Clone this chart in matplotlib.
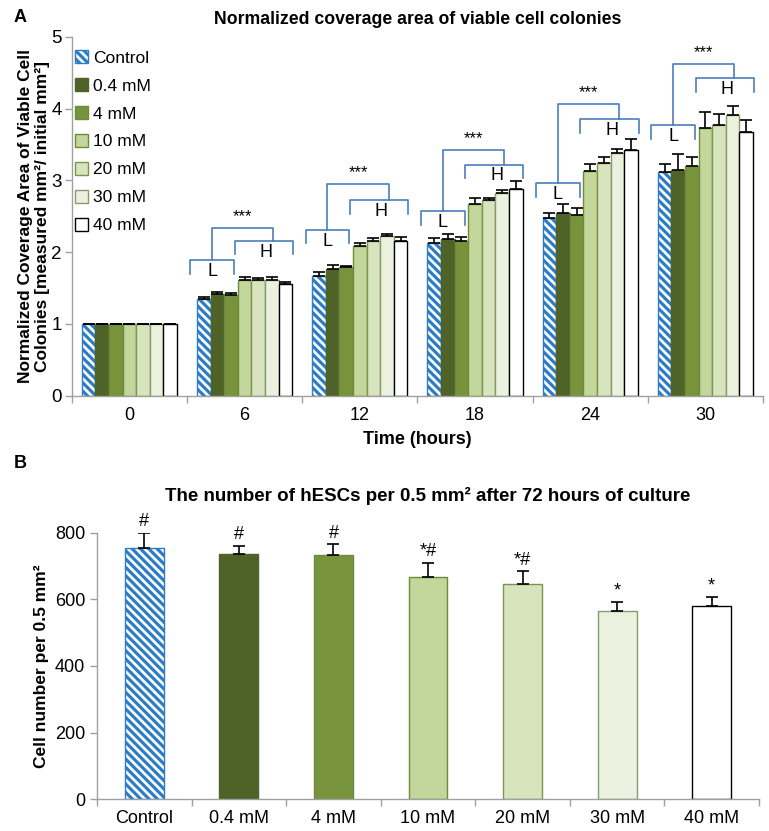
import matplotlib
matplotlib.use("Agg")
from matplotlib import pyplot as plt
import numpy as np

# ---- data ----
groups = ['Control', '0.4 mM', '4 mM', '10 mM', '20 mM', '30 mM', '40 mM']
times = ['0', '6', '12', '18', '24', '30']

# normalized coverage area, rows = time, cols = group
area = np.array([
    [1.00, 1.00, 1.00, 1.00, 1.00, 1.00, 1.00],
    [1.35, 1.41, 1.40, 1.61, 1.61, 1.61, 1.55],
    [1.67, 1.76, 1.79, 2.08, 2.16, 2.22, 2.16],
    [2.13, 2.18, 2.15, 2.67, 2.72, 2.83, 2.88],
    [2.48, 2.54, 2.51, 3.13, 3.24, 3.38, 3.42],
    [3.11, 3.14, 3.20, 3.73, 3.77, 3.91, 3.67],
])
area_err = np.array([
    [0.00, 0.00, 0.00, 0.00, 0.00, 0.00, 0.00],
    [0.03, 0.04, 0.03, 0.05, 0.03, 0.05, 0.04],
    [0.05, 0.06, 0.02, 0.05, 0.03, 0.03, 0.05],
    [0.06, 0.07, 0.06, 0.09, 0.04, 0.04, 0.11],
    [0.07, 0.13, 0.10, 0.10, 0.08, 0.06, 0.16],
    [0.12, 0.23, 0.13, 0.22, 0.15, 0.12, 0.17],
])

# bracket levels for time 6..30
l_top = [1.89, 2.31, 2.57, 2.96, 3.77]
h_top = [2.16, 2.72, 3.22, 3.85, 4.42]
sig_top = [2.34, 2.95, 3.42, 4.06, 4.62]

# cell number after 72 h
cells = [755, 737, 734, 666, 647, 565, 580]
cells_err = [45, 24, 31, 44, 37, 28, 27]
cells_mark = ['#', '#', '#', '*#', '*#', '*', '*']

# ---- style ----
colors = ['white', '#4f6228', '#77933c', '#c3d69b', '#d7e4bd', '#ebf1de', 'white']
edges = ['#2d7dc6', '#4f6228', '#6f8a38', '#6f8a38', '#7d9450', '#8a9a70', 'black']
hatches = ['\\\\\\\\', None, None, None, None, None, None]
blue = '#4a7ebb'
axcol = '#a0a0a0'

plt.rcParams['font.family'] = ['Liberation Sans', 'DejaVu Sans']
plt.rcParams['hatch.linewidth'] = 2.3
narrow = ['Liberation Sans Narrow', 'Liberation Sans', 'DejaVu Sans']

fig = plt.figure(figsize=(7.69, 8.31), dpi=100)

def style_axis(ax):
    for s in ['top', 'right']:
        ax.spines[s].set_visible(False)
    for s in ['left', 'bottom']:
        ax.spines[s].set_color(axcol)
        ax.spines[s].set_linewidth(1.0)
    ax.tick_params(axis='both', colors=axcol, length=5, width=1.0,
                   labelcolor='black')

# ---- panel A ----
axA = fig.add_axes([71.7/769, 1-395.7/831, (763-71.7)/769, (395.7-36.7)/831])
style_axis(axA)
nt, ng = area.shape
bw = 0.118
x = np.arange(nt)
for j in range(ng):
    xs = x + (j - 3) * bw
    axA.bar(xs, area[:, j], bw, color=colors[j], edgecolor=edges[j],
            hatch=hatches[j], linewidth=1.0, label=groups[j], zorder=2)
    axA.errorbar(xs, area[:, j], yerr=[np.zeros(nt), area_err[:, j]],
                 fmt='none', ecolor='black', elinewidth=1.2, capsize=4,
                 capthick=1.2, zorder=3)

for i in range(1, nt):
    c = x[i]
    lt, ht, st = l_top[i-1], h_top[i-1], sig_top[i-1]
    leg = 0.19
    lx0, lx1 = c - 0.47, c - 0.09
    hx0, hx1 = c - 0.085, c + 0.42
    sx0, sx1 = c - 0.28, c + 0.25
    axA.plot([lx0, lx0, lx1, lx1], [lt - leg, lt, lt, lt - leg], color=blue, lw=1.2)
    axA.plot([hx0, hx0, hx1, hx1], [ht - leg, ht, ht, ht - leg], color=blue, lw=1.2)
    axA.plot([sx0, sx0, sx1, sx1], [lt, st, st, ht], color=blue, lw=1.2)
    axA.text((lx0 + lx1) / 2, lt - 0.16, 'L', ha='center', va='center', fontsize=13)
    axA.text((hx0 + hx1) / 2 + 0.02, ht - 0.16, 'H', ha='center', va='center', fontsize=13)
    axA.text((sx0 + sx1) / 2, st + 0.05, '***', ha='center', va='bottom', fontsize=12)

axA.set_xlim(-0.5, nt - 0.5)
axA.set_ylim(0, 5)
axA.set_yticks(range(6))
axA.set_xticks(np.arange(nt + 1) - 0.5)
axA.set_xticklabels([])
axA.set_xticks(x, minor=True)
axA.set_xticklabels(times, minor=True, fontsize=13, family=narrow)
axA.tick_params(axis='x', which='minor', length=0, pad=8)
axA.tick_params(axis='y', labelsize=13.5, pad=2)
axA.set_xlabel('Time (hours)', fontsize=13, fontweight='bold', family=narrow, labelpad=5)
axA.set_ylabel('Normalized Coverage Area of Viable Cell\nColonies [measured mm²/ initial mm²]',
               fontsize=12.5, fontweight='bold', labelpad=1, linespacing=1.15)
axA.set_title('Normalized coverage area of viable cell colonies', fontsize=12.7,
              fontweight='bold', pad=9)
axA.legend(loc='upper left', bbox_to_anchor=(0.005, 0.962), frameon=False,
           fontsize=12.5, handlelength=0.75, handleheight=0.75, handletextpad=0.3,
           labelspacing=0.72, borderaxespad=0, borderpad=0)

# ---- panel B ----
axB = fig.add_axes([97/769, 1-799.3/831, (759-97)/769, (799.3-532.7)/831])
style_axis(axB)
xb = np.arange(len(groups))
for j in range(len(groups)):
    axB.bar(xb[j], cells[j], 0.41, color=colors[j], edgecolor=edges[j],
            hatch=hatches[j], linewidth=1.0, zorder=2)
axB.errorbar(xb, cells, yerr=[np.zeros(len(cells)), cells_err], fmt='none',
             ecolor='black', elinewidth=1.2, capsize=4.5, capthick=1.2, zorder=3)
for j in range(len(groups)):
    axB.text(xb[j], cells[j] + cells_err[j] + 8, cells_mark[j], ha='center',
             va='bottom', fontsize=13, family=narrow)

axB.set_xlim(-0.5, len(groups) - 0.5)
axB.set_ylim(0, 800)
axB.set_yticks(range(0, 801, 200))
axB.set_xticks(np.arange(len(groups) + 1) - 0.5)
axB.set_xticklabels([])
axB.set_xticks(xb, minor=True)
axB.set_xticklabels(groups, minor=True, fontsize=13, family=narrow)
axB.tick_params(axis='x', which='minor', length=0, pad=8)
for t in axB.get_yticklabels():
    t.set_fontsize(13)
    t.set_family(narrow)
axB.set_ylabel('Cell number per 0.5 mm²', fontsize=12.5, fontweight='bold', labelpad=4)
axB.set_title('The number of hESCs per 0.5 mm² after 72 hours of culture',
              fontsize=13.5, fontweight='bold', family=narrow, pad=23)

fig.text(14/769, 1-18/831, 'A', fontsize=13, fontweight='bold', va='center')
fig.text(14/769, 1-463/831, 'B', fontsize=13, fontweight='bold', va='center')

fig.savefig('out.png', dpi=100)
